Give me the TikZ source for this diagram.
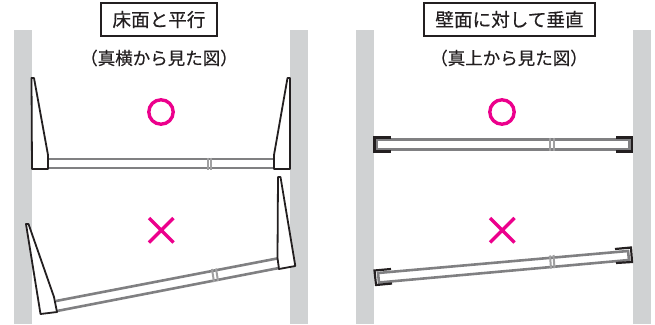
\documentclass[tikz,border=0pt]{standalone}
\usepackage{fontspec}
\newfontfamily\jpf[RawFeature={embolden=0.35}]{Noto Sans CJK JP}
\definecolor{wallc}{HTML}{D0D2D3}
\definecolor{pinkc}{HTML}{EC008C}
\definecolor{tubec}{HTML}{808082}
\definecolor{inkc}{HTML}{231F20}
\tikzset{
  wall/.style={fill=wallc,draw=none},
  bracket/.style={draw=inkc,line width=1.8pt,line join=round,fill=white},
  tube/.style={draw=tubec,line width=2.6pt},
  joint/.style={draw=tubec!75,line width=2pt},
  mark o/.style={draw=pinkc,line width=3.4pt},
  mark x/.style={draw=pinkc,line width=3.4pt},
  titlebox/.style={draw=inkc,line width=1.4pt,fill=white,font=\jpf\fontsize{18.6}{20}\selectfont,text=inkc,inner sep=0pt,minimum height=33pt},
  subt/.style={font=\jpf\fontsize{17.5}{20}\selectfont,text=inkc,inner sep=0pt},
  endcap/.style={draw=inkc,line width=2.2pt,line join=miter},
}
\begin{document}
\begin{tikzpicture}[x=1pt,y=-1pt]
\useasboundingbox (0,0) rectangle (655,324);
% walls
\fill[wall] (14,30) rectangle (32,324);
\fill[wall] (290,30) rectangle (308,324);
\fill[wall] (356,30) rectangle (374,324);
\fill[wall] (633,30) rectangle (651,324);
% titles
\node[titlebox,minimum width=116pt] (t1) at (159,19.5) {床面と平行};
\node[titlebox,minimum width=171pt] (t2) at (509.5,19.5) {壁面に対して垂直};
\node[subt] (s1) at (159,58) {（真横から見た図）};
\node[subt] (s2) at (509,58) {（真上から見た図）};
% marks
\draw[mark o] (161,112) circle (12.2);
\draw[mark o] (502,112) circle (12.2);
\draw[mark x] (149,218) -- (173.5,242.5) (173.5,218) -- (149,242.5);
\draw[mark x] (490,218) -- (514.5,242.5) (514.5,218) -- (490,242.5);
% top left
\draw[tube] (48,159) -- (274,159) (48,168) -- (274,168);
\draw[joint] (207.5,157.5) -- (207.5,169.5) (211,157.5) -- (211,169.5) ;
\draw[bracket] (31.5,78) -- (34,78) -- (48,155) -- (48,169) -- (32,169) -- cycle;
\draw[bracket] (290,78) -- (287.5,78) -- (274,155) -- (274,169) -- (290,169) -- cycle;
% bottom left
\draw[tube] (56,301) -- (277,258.5) (57,311) -- (279,268);
\draw[joint] (212,269) -- (214,282) (216,268.5) -- (218,281);
\draw[bracket] (26,224) -- (28.5,224) -- (54,297) -- (57,312) -- (40.5,314) -- cycle;
\draw[bracket] (278,177) -- (280.5,177) -- (295.3,266) -- (279,269) -- (277.5,258) -- cycle;
% top right
\draw[tube] (376.5,139.5) -- (629.5,139.5) -- (629.5,149.5) -- (376.5,149.5) -- cycle;
\draw[joint] (550,137.5) -- (550,151) (553.5,137.5) -- (553.5,151);
\draw[endcap] (391,137.5) -- (374.5,137.5) -- (374.5,151.5) -- (391,151.5);
\draw[endcap] (616,137.5) -- (632,137.5) -- (632,151.5) -- (616,151.5);
% bottom right
\draw[tube] (378,273) -- (628,251) -- (629,260) -- (379,282.5) -- cycle;
\draw[joint] (550,255.5) -- (551,268.5) (553.5,255) -- (554.5,268);
\draw[endcap] (391,269) -- (374.5,270.5) -- (376,285) -- (392,283.5);
\draw[endcap] (615,249) -- (631,247.5) -- (632,262) -- (616,263);
\end{tikzpicture}
\end{document}
